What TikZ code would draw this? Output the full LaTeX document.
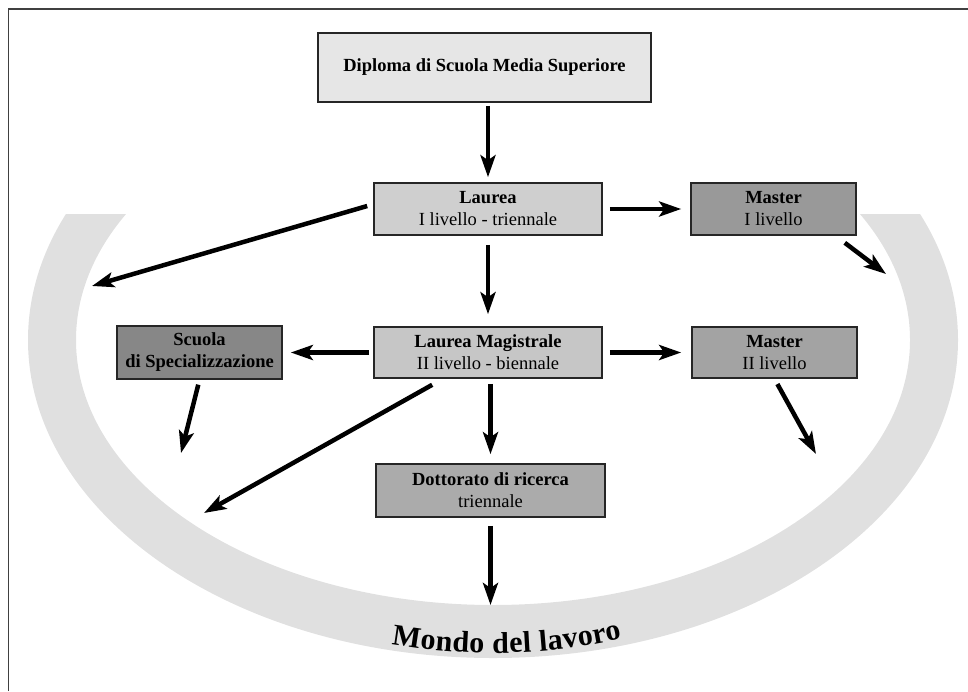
\documentclass[tikz,border=0pt]{standalone}
\usepackage{fontspec}
\setmainfont{Liberation Serif}
\usetikzlibrary{arrows.meta,calc,decorations.text}

\definecolor{bandgray}{HTML}{E0E0E0}
\definecolor{diplomagray}{HTML}{E6E6E6}
\definecolor{laureagray}{HTML}{CFCFCF}
\definecolor{magistralegray}{HTML}{C6C6C6}
\definecolor{masterIgray}{HTML}{999999}
\definecolor{masterIIgray}{HTML}{A3A3A3}
\definecolor{scuolagray}{HTML}{878787}
\definecolor{dottoratogray}{HTML}{ABABAB}

\begin{document}
\begin{tikzpicture}[x=1pt,y=-1pt,
    titolo/.style={draw=black!85, line width=1.6pt, align=center, inner sep=1pt,
                   font=\fontsize{18.5}{22}\selectfont},
    freccia/.style={line width=4.5pt, -{Stealth[length=22pt,width=15pt,inset=5pt]}},
  ]
  \newcommand\casella[6]{% {<name>}{<center>}{<width>}{<height>}{<fill>}{<text>}
    \node[titolo, fill=#5, minimum width=#3, minimum height=#4] (#1) at #2 {#6};
  }
  \newcommand\mondofont{\fontsize{30}{30}\selectfont\bfseries}
  \useasboundingbox (0,0) rectangle (968,691);

  % frame
  \draw[black!75, line width=1.5pt] (8.5,691) -- (8.5,9) -- (968,9);

  % band
  \begin{scope}
    \clip (0,214) rectangle (968,691);
    \fill[bandgray, even odd rule] (493,340) ellipse [x radius=465, y radius=318]
                                   (493,340) ellipse [x radius=417, y radius=265];
  \end{scope}
  \path[decorate, decoration={text effects along path, text={Mondo del lavoro}, text align=center,
      text effects/.cd, text along path,
      characters={text along path, font=\mondofont, inner sep=0pt},
      character widths={text along path, font=\mondofont, inner xsep=0.2pt}}]
    (493,340) ++(118:433 and 313) arc [start angle=118, end angle=58, x radius=433, y radius=313];

  % boxes
  \casella{diploma}{(484.5,67.5)}{333pt}{69pt}{diplomagray}{\textbf{Diploma di Scuola Media Superiore}}
  \casella{laurea}{(488,209)}{228pt}{52pt}{laureagray}{\textbf{Laurea}\\I livello - triennale}
  \casella{masterI}{(773.5,209)}{165pt}{52pt}{masterIgray}{\textbf{Master}\\I livello}
  \casella{magistrale}{(488,352.5)}{228pt}{51pt}{magistralegray}{\textbf{Laurea Magistrale}\\II livello - biennale}
  \casella{masterII}{(774.5,352.5)}{165pt}{51pt}{masterIIgray}{\textbf{Master}\\II livello}
  \casella{scuola}{(199.5,352.5)}{165pt}{53pt}{scuolagray}{\textbf{Scuola}\\\textbf{di Specializzazione}}
  \casella{dottorato}{(490.5,490.5)}{229pt}{53pt}{dottoratogray}{\textbf{Dottorato di ricerca}\\triennale}

  % free ends on the band
  \coordinate (fineL) at (92,286);
  \coordinate (fineMI) at (886,274);
  \coordinate (fineLL) at (204,513);
  \coordinate (fineS) at (181,453);
  \coordinate (fineMII) at (816,454);
  \coordinate (fineD) at (490.5,605);

  % arrows
  \draw[freccia, shorten <=3pt, shorten >=5pt] (diploma.south -| laurea.north) -- (laurea.north);
  \draw[freccia, shorten <=7pt, shorten >=9pt] (laurea.east) -- (masterI.west);
  \draw[freccia] ($(laurea.west)+(-6,-3)$) -- (fineL);
  \draw[freccia, shorten <=9pt, shorten >=12pt] (laurea.south) -- (magistrale.north);
  \draw[freccia] ($(masterI.south east)+(-12,7)$) -- (fineMI);
  \draw[freccia, shorten <=7pt, shorten >=10pt] (magistrale.east) -- (masterII.west);
  \draw[freccia, shorten <=4pt, shorten >=8pt] (magistrale.west) -- (scuola.east);
  \draw[freccia, shorten <=5pt, shorten >=9pt] (magistrale.south -| dottorato.north) -- (dottorato.north);
  \draw[freccia] ($(magistrale.south west)+(59,6)$) -- (fineLL);
  \draw[freccia, shorten <=5pt] (scuola.south) -- (fineS);
  \draw[freccia, shorten <=6pt] (masterII.south) -- (fineMII);
  \draw[freccia, shorten <=8pt] (dottorato.south) -- (fineD);
\end{tikzpicture}
\end{document}
